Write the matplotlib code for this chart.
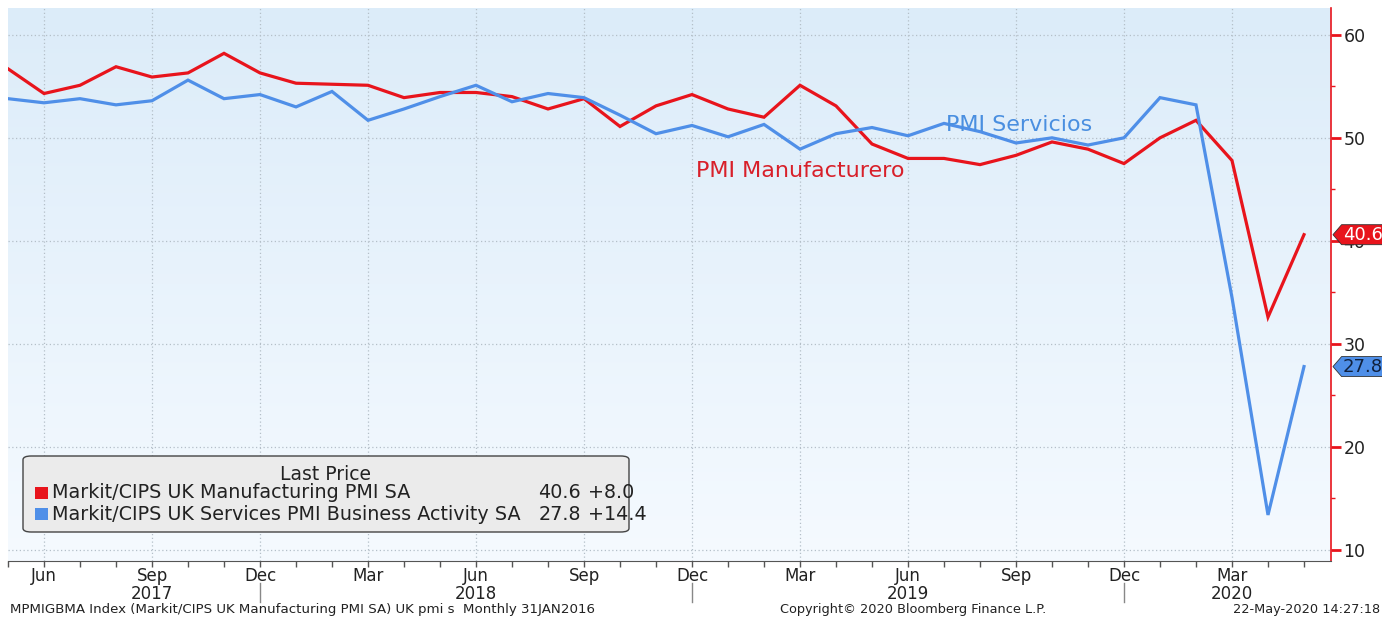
import numpy as np
import pandas as pd
import matplotlib
matplotlib.use("Agg")
import matplotlib.pyplot as plt
from matplotlib.patches import FancyBboxPatch, Polygon, Rectangle
from matplotlib.ticker import FixedLocator, MultipleLocator

# datos mensuales, may-2017 .. may-2020
fechas = pd.date_range("2017-05-01", periods=37, freq="MS")
pmi_manuf = [56.7, 54.3, 55.1, 56.9, 55.9, 56.3, 58.2, 56.3, 55.3, 55.2, 55.1, 53.9,
             54.4, 54.4, 54.0, 52.8, 53.8, 51.1, 53.1, 54.2, 52.8, 52.0, 55.1, 53.1,
             49.4, 48.0, 48.0, 47.4, 48.3, 49.6, 48.9, 47.5, 50.0, 51.7, 47.8, 32.6, 40.6]
pmi_serv = [53.8, 53.4, 53.8, 53.2, 53.6, 55.6, 53.8, 54.2, 53.0, 54.5, 51.7, 52.8,
            54.0, 55.1, 53.5, 54.3, 53.9, 52.2, 50.4, 51.2, 50.1, 51.3, 48.9, 50.4,
            51.0, 50.2, 51.4, 50.6, 49.5, 50.0, 49.3, 50.0, 53.9, 53.2, 34.5, 13.4, 27.8]
etiquetas_leyenda = ["Markit/CIPS UK Manufacturing PMI SA",
                     "Markit/CIPS UK Services PMI Business Activity SA"]
ultimo = ["40.6", "27.8"]
cambio = ["+8.0", "+14.4"]
anios = ["2017", "2018", "2019", "2020"]
anio_pos = ["2017-09", "2018-06", "2019-06", "2020-03"]

ROJO = "#e8141c"
AZUL = "#4f8fe8"

W, H = 1382, 617
fig = plt.figure(figsize=(W / 100, H / 100), dpi=100)
fig.patch.set_facecolor("white")
ax = fig.add_axes([8 / W, (H - 561) / H, 1323 / W, 553 / H])

x = np.arange(len(fechas))
ax.set_xlim(0, 36.75)
ax.set_ylim(8.93, 62.6)

# fondo degradado
grad = np.linspace(0, 1, 256).reshape(-1, 1)
cmap = matplotlib.colors.LinearSegmentedColormap.from_list("bg", ["#dcecf9", "#f5faff"])
ax.imshow(grad, extent=[0, 1, 0, 1], transform=ax.transAxes, aspect="auto",
          cmap=cmap, zorder=0, origin="upper")

ax.plot(x, pmi_manuf, color=ROJO, lw=2.3, zorder=3, solid_joinstyle="miter")
ax.plot(x, pmi_serv, color=AZUL, lw=2.3, zorder=3, solid_joinstyle="miter")

# eje x: meses
mayores = [i for i, f in enumerate(fechas) if f.month in (3, 6, 9, 12)]
ax.xaxis.set_major_locator(FixedLocator(mayores))
ax.xaxis.set_minor_locator(FixedLocator(list(x)))
ax.set_xticklabels([fechas[i].strftime("%b") for i in mayores])
ax.tick_params(axis="x", which="both", direction="out", length=4, width=1,
               color="#555555", labelsize=12, pad=0, labelcolor="#222222")
for i, f in enumerate(fechas):
    if f.month == 12:
        ax.plot([i, i], [-0.04, -0.075], transform=ax.get_xaxis_transform(),
                color="#888888", lw=1, clip_on=False)
for a, p in zip(anios, anio_pos):
    i = list(fechas.strftime("%Y-%m")).index(p)
    ax.text(i, -0.06, a, transform=ax.get_xaxis_transform(), ha="center", va="center",
            fontsize=12, color="#222222")

# eje y a la derecha
ax.yaxis.tick_right()
ax.yaxis.set_major_locator(MultipleLocator(10))
ax.yaxis.set_minor_locator(MultipleLocator(5))
ax.tick_params(axis="y", which="major", direction="out", length=7, width=2, color=ROJO,
               labelsize=12.5, labelcolor="#222222", pad=2)
ax.tick_params(axis="y", which="minor", direction="out", length=3, width=1, color=ROJO)
for s in ["left", "top"]:
    ax.spines[s].set_visible(False)
ax.spines["right"].set_color(ROJO)
ax.spines["right"].set_linewidth(1.2)
ax.spines["bottom"].set_color("#555555")

ax.grid(True, which="major", color="#b4bfc8", linestyle=(0, (1, 2)), lw=0.9)
ax.set_axisbelow(True)

# textos en el grafico
ax.text(26.05, 51.2, "PMI Servicios", color="#4a8fe0", fontsize=16, ha="left", va="center")
ax.text(19.1, 46.8, "PMI Manufacturero", color="#d8202a", fontsize=16, ha="left", va="center")

# etiquetas de ultimo valor
ty = ax.get_yaxis_transform()
for val, fc, tc in [(pmi_manuf[-1], ROJO, "white"), (pmi_serv[-1], AZUL, "#10203c")]:
    poly = Polygon([[1.0015, val], [1.008, val + 0.97], [1.05, val + 0.97],
                    [1.05, val - 0.97], [1.008, val - 0.97]], closed=True,
                   transform=ty, facecolor=fc, edgecolor="#333333", lw=0.6,
                   clip_on=False, zorder=5)
    ax.add_patch(poly)
    ax.text(1.009, val, f"{val:.1f}", transform=ty, color=tc, fontsize=13,
            ha="left", va="center", clip_on=False, zorder=6)

# leyenda
def px(xp, yp):
    return xp / W, 1 - yp / H

caja = FancyBboxPatch(px(23, 532), 606 / W, 76 / H,
                      boxstyle="round,pad=0,rounding_size=0.006",
                      transform=fig.transFigure, facecolor="#ebebeb",
                      edgecolor="#444444", lw=1.0, zorder=10)
fig.patches.append(caja)
fig.text(*px(326, 474), "Last Price", ha="center", va="center", fontsize=13.5,
         color="#222222", zorder=11)
for k, (lab, col) in enumerate(zip(etiquetas_leyenda, [ROJO, AZUL])):
    yy = 493 + 21 * k
    fig.patches.append(Rectangle(px(35, yy + 6), 13 / W, 12 / H, transform=fig.transFigure,
                                 facecolor=col, edgecolor="none", zorder=11))
    fig.text(*px(52, yy), lab, ha="left", va="center", fontsize=13.8, color="#222222", zorder=11)
    fig.text(*px(581, yy), ultimo[k], ha="right", va="center", fontsize=13.8, color="#222222", zorder=11)
    fig.text(*px(588, yy), cambio[k], ha="left", va="center", fontsize=13.8, color="#222222", zorder=11)

# pie
fig.text(*px(10, 610), "MPMIGBMA Index (Markit/CIPS UK Manufacturing PMI SA) UK pmi s  Monthly 31JAN2016",
         ha="left", va="center", fontsize=9.6, color="#222222")
fig.text(*px(913, 610), "Copyright\u00a9 2020 Bloomberg Finance L.P.", ha="center", va="center",
         fontsize=9.3, color="#222222")
fig.text(*px(1380, 610), "22-May-2020 14:27:18", ha="right", va="center", fontsize=9.3,
         color="#222222")

fig.savefig("out.png", dpi=100)
